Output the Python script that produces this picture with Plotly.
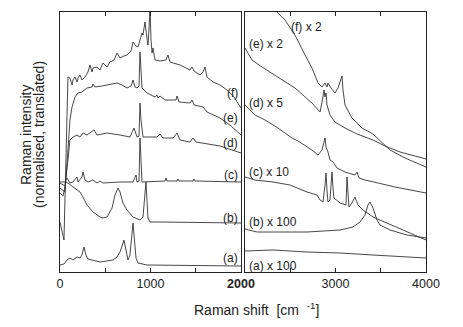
import plotly.graph_objects as go

# ---------------- data (Raman shift in cm^-1, intensity in arbitrary translated units) ----------------
# Left panel (0-2000 cm^-1)
f_lo_x = [0, 44, 88, 110, 133, 144, 166, 188, 199, 221, 243, 276, 309, 331, 354, 365, 409, 442, 475, 519,
          552, 597, 630, 663, 707, 740, 785, 807, 840, 862, 884, 906, 917, 939, 961, 972, 983, 994, 1006,
          1017, 1028, 1050, 1105, 1171, 1193, 1215, 1326, 1436, 1459, 1481, 1547, 1580, 1602, 1624, 1691,
          1768, 1845, 1923, 2000]
f_lo_y = [50, 32, 195, 194, 187, 192, 195, 190, 194, 197, 192, 195, 200, 207, 200, 204, 205, 202, 209, 205,
          210, 212, 219, 214, 216, 217, 221, 230, 226, 225, 232, 239, 237, 250, 234, 227, 242, 264, 232,
          219, 224, 212, 211, 212, 217, 210, 207, 202, 205, 201, 197, 200, 205, 195, 190,
          187, 182, 175, 164]

e_lo_x = [0, 55, 88, 110, 133, 166, 199, 243, 298, 354, 365, 387, 464, 519, 586, 630, 685, 740, 785, 807,
          829, 851, 873, 884, 895, 906, 961, 1050, 1072, 1083, 1105, 1160, 1282, 1293, 1315, 1436, 1459,
          1481, 1580, 1624, 1768, 1878, 2000]
e_lo_y = [84, 80, 122, 152, 165, 175, 179, 180, 184, 185, 188, 185, 186, 187, 188, 189, 187, 184, 186, 192,
          185, 184, 186, 220, 202, 184, 179, 175, 177, 174, 176, 172, 172, 176, 170, 169, 172,
          167, 165, 160, 154, 147, 137]

d_lo_x = [0, 55, 88, 110, 144, 188, 221, 254, 298, 331, 376, 409, 519, 663, 773, 818, 851, 873, 884, 895,
          917, 1072, 1105, 1138, 1249, 1293, 1326, 1436, 1470, 1503, 1768, 2000]
d_lo_y = [89, 86, 112, 132, 135, 137, 135, 139, 137, 139, 142, 137, 139, 137, 135, 144, 135, 136, 169, 152,
          135, 135, 138, 134, 134, 139, 132, 130, 134, 130, 126, 119]

c_lo_x = [0, 55, 77, 110, 144, 188, 199, 243, 254, 276, 309, 365, 409, 442, 475, 663, 807, 840, 851, 873,
          884, 895, 906, 1160, 1171, 1182, 1293, 1304, 1315, 1470, 1481, 1492, 2000]
c_lo_y = [90, 90, 94, 89, 90, 95, 90, 95, 100, 92, 90, 92, 89, 91, 89, 90, 90, 97, 90, 91,
          134, 112, 90, 91, 94, 91, 91, 93, 91, 91, 93, 91, 90]

b_lo_x = [0, 33, 66, 88, 144, 188, 221, 254, 298, 365, 442, 475, 519, 575, 608, 641, 663, 696, 740, 807,
          884, 917, 950, 961, 972, 994, 1105, 2000]
b_lo_y = [79, 76, 90, 89, 85, 82, 80, 75, 67, 60, 55, 54, 55, 64, 77, 84, 80, 69, 62, 55,
          52, 55, 90, 72, 54, 50, 50, 49]

a_lo_x = [0, 44, 77, 110, 144, 188, 221, 243, 265, 287, 309, 354, 442, 586, 630, 663, 685, 707, 729, 751,
          773, 796, 807, 818, 840, 862, 961, 2000]
a_lo_y = [7, 8, 12, 14, 12, 15, 14, 17, 25, 17, 13, 12, 10, 12, 15, 20, 27, 32, 22, 12,
          17, 37, 49, 37, 14, 9, 7, 6]

# Right panel (2000-4000 cm^-1), scaled spectra
f_hi_x = [2000, 2354, 2442, 2552, 2663, 2740, 2807, 2851, 2884, 2906, 2917, 2950, 2994, 3028, 3050, 3072,
          3083, 3105, 3182, 3293, 3414, 3492, 3602, 3768, 4000]
f_hi_y = [310, 260, 252, 237, 217, 204, 189, 185, 189, 185, 189, 184, 179, 184, 190, 196,
          182, 167, 154, 144, 138, 131, 122, 114, 105]

e_hi_x = [2000, 2077, 2188, 2365, 2552, 2740, 2829, 2851, 2862, 2873, 2884, 2895, 2906, 2939, 2994, 3105,
          3238, 3414, 3547, 3713, 4000]
e_hi_y = [224, 212, 205, 195, 184, 169, 160, 170, 177, 182, 175, 179, 167, 157, 150, 144,
          138, 132, 126, 120, 113]

d_hi_x = [2000, 2110, 2221, 2365, 2519, 2586, 2740, 2807, 2851, 2873, 2884, 2895, 2917, 2939, 2972, 3017,
          3105, 3215, 3238, 3260, 3326, 3470, 3658, 4000]
d_hi_y = [167, 157, 152, 144, 134, 131, 122, 117, 122, 132, 134, 125, 120, 112, 110, 104,
          100, 97, 100, 94, 92, 89, 85, 79]

c_hi_x = [2000, 2110, 2309, 2497, 2685, 2796, 2829, 2862, 2884, 2895, 2906, 2917, 2939, 2950, 2961, 2972,
          2983, 3050, 3116, 3127, 3138, 3149, 3182, 3215, 3249, 3304, 3414, 3569, 3790, 4000]
c_hi_y = [95, 92, 90, 87, 80, 77, 72, 70, 87, 99, 82, 70, 72, 87, 100, 84,
          74, 69, 67, 95, 77, 65, 69, 75, 67, 62, 55, 49, 40, 32]

b_hi_x = [2000, 2133, 2309, 2685, 3050, 3193, 3271, 3326, 3359, 3381, 3414, 3459, 3492, 3602, 3790, 4000]
b_hi_y = [43, 40, 40, 40, 42, 45, 50, 57, 67, 70, 64, 52, 47, 42, 37, 34]

a_hi_x = [2000, 2309, 2685, 3050, 3414, 4000]
a_hi_y = [21, 22, 20, 19, 17, 14]

left_labels = ["(f)", "(e)", "(d)", "(c)", "(b)", "(a)"]
left_label_y = [179, 154, 129, 97, 54, 14]
right_labels = ["(f) x 2", "(e) x 2", "(d) x 5", "(c) x 10", "(b) x 100", "(a) x 100"]
right_label_x = [2486, 2022, 2022, 2022, 2022, 2022]
right_label_y = [245, 228, 169, 100, 50, 6]

x_lo_ticks = [0, 1000, 2000]
x_lo_text = ["0", "1000", "<b>2000</b>"]
x_lo_minor = [500, 1500]
x_hi_ticks = [3000, 4000]
x_hi_text = ["3000", "4000"]
x_hi_minor = [2500, 3500]

# ---------------- figure ----------------
W, H = 463, 327
LINE = dict(color="#333333", width=0.9)
FONT = "Liberation Sans, Arial, Helvetica, sans-serif"
TXT = "#222222"

fig = go.Figure()
for xs, ys in [(f_lo_x, f_lo_y), (e_lo_x, e_lo_y), (d_lo_x, d_lo_y),
               (c_lo_x, c_lo_y), (b_lo_x, b_lo_y), (a_lo_x, a_lo_y)]:
    fig.add_trace(go.Scatter(x=xs, y=ys, mode="lines", line=LINE, xaxis="x", yaxis="y",
                             hoverinfo="skip"))
for xs, ys in [(f_hi_x, f_hi_y), (e_hi_x, e_hi_y), (d_hi_x, d_hi_y),
               (c_hi_x, c_hi_y), (b_hi_x, b_hi_y), (a_hi_x, a_hi_y)]:
    fig.add_trace(go.Scatter(x=xs, y=ys, mode="lines", line=LINE, xaxis="x2", yaxis="y2",
                             hoverinfo="skip"))

annotations = []
for t, y in zip(left_labels, left_label_y):
    annotations.append(dict(x=1992, y=y, xref="x", yref="y", text=t, showarrow=False,
                            xanchor="right", yanchor="middle",
                            font=dict(size=12, color=TXT, family=FONT)))
for t, x, y in zip(right_labels, right_label_x, right_label_y):
    annotations.append(dict(x=x, y=y, xref="x2", yref="y2", text=t, showarrow=False,
                            xanchor="left", yanchor="middle",
                            font=dict(size=12, color=TXT, family=FONT)))
# axis titles
annotations.append(dict(x=256 / W, y=1 - 309 / H, xref="paper", yref="paper",
                        text="Raman shift\u00a0\u00a0[cm\u00a0\u00a0<sup>-1</sup>]", showarrow=False,
                        xanchor="center", yanchor="middle",
                        font=dict(size=14, color=TXT, family=FONT)))
annotations.append(dict(x=26 / W, y=1 - 135 / H, xref="paper", yref="paper",
                        text="Raman intensity", showarrow=False, textangle=-90,
                        xanchor="center", yanchor="middle",
                        font=dict(size=14, color=TXT, family=FONT)))
annotations.append(dict(x=39 / W, y=1 - 135 / H, xref="paper", yref="paper",
                        text="(normalised, translated)", showarrow=False, textangle=-90,
                        xanchor="center", yanchor="middle",
                        font=dict(size=14, color=TXT, family=FONT)))

axis_common = dict(showline=True, linecolor=TXT, linewidth=1, mirror="ticks",
                   ticks="inside", ticklen=4, tickcolor=TXT, showgrid=False, zeroline=False,
                   automargin=False, tickfont=dict(size=12.5, color=TXT, family=FONT))

ydom = [1 - 272 / H, 1 - 12 / H]
yaxis_common = dict(domain=ydom, range=[0, 260], showticklabels=False,
                    showline=True, linecolor=TXT, linewidth=1, mirror=True, ticks="",
                    showgrid=False, zeroline=False, automargin=False)
fig.update_layout(
    width=W, height=H, margin=dict(l=0, r=0, t=0, b=0, pad=0),
    paper_bgcolor="white", plot_bgcolor="white", showlegend=False,
    xaxis=dict(domain=[60 / W, 241 / W], range=[0, 2000], tickmode="array",
               tickvals=x_lo_ticks, ticktext=x_lo_text, anchor="y",
               minor=dict(tickmode="array", tickvals=x_lo_minor, ticks="inside", ticklen=4,
                          tickcolor=TXT, showgrid=False),
               **axis_common),
    xaxis2=dict(domain=[245 / W, 426 / W], range=[2000, 4000], tickmode="array",
                tickvals=x_hi_ticks, ticktext=x_hi_text, anchor="y2",
                minor=dict(tickmode="array", tickvals=x_hi_minor, ticks="inside", ticklen=4,
                           tickcolor=TXT, showgrid=False),
                **axis_common),
    yaxis=dict(anchor="x", **yaxis_common),
    yaxis2=dict(anchor="x2", **yaxis_common),
    annotations=annotations,
)

fig.write_html("out.html",
               config={"displayModeBar": False, "staticPlot": True},
               post_script="document.body.style.margin='0px';"
                           "document.body.style.overflow='hidden';")
